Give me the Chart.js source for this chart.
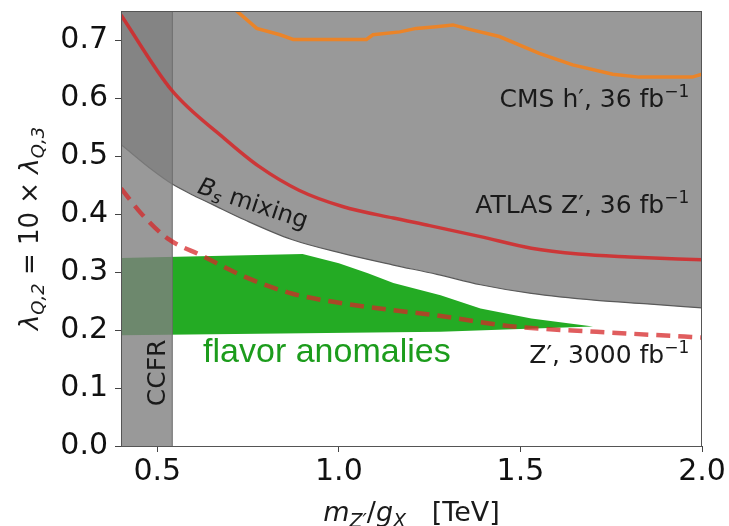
<!DOCTYPE html>
<html>
<head>
<meta charset="utf-8">
<script src="https://cdn.jsdelivr.net/npm/chart.js@4.4.0/dist/chart.umd.min.js"></script>
<style>
  html, body { margin: 0; padding: 0; background: #fff; }
  #wrap { width: 729px; height: 526px; }
</style>
</head>
<body>
<div id="wrap"><canvas id="chart" width="729" height="526"></canvas></div>
<script>
// axis ticks
const xTicks = [0.5, 1.0, 1.5, 2.0];
const yTicks = [0.0, 0.1, 0.2, 0.3, 0.4, 0.5, 0.6, 0.7];

// B_s mixing bound, excluded above
const bsX = [0.40, 0.49, 0.54, 0.60, 0.65, 0.74, 0.87, 1.01, 1.15, 1.27, 1.39, 1.53, 1.71, 1.85, 2.00];
const bsY = [0.520, 0.474, 0.452, 0.432, 0.417, 0.390, 0.356, 0.332, 0.312, 0.296, 0.278, 0.263, 0.251, 0.245, 0.238];

// CCFR bound, excluded below this mass
const ccfrX = [0.40, 0.541];
const ccfrTop = [0.75, 0.75];

// ATLAS Z', 36 fb^-1
const atlasX = [0.40, 0.54, 0.685, 0.78, 0.89, 1.01, 1.15, 1.25, 1.39, 1.53, 1.66, 1.80, 2.00];
const atlasY = [0.743, 0.613, 0.530, 0.482, 0.441, 0.413, 0.393, 0.380, 0.361, 0.341, 0.331, 0.326, 0.321];

// CMS h', 36 fb^-1
const cmsX = [0.715, 0.774, 0.838, 0.874, 1.076, 1.094, 1.168, 1.213, 1.268, 1.314, 1.369, 1.442, 1.552, 1.644, 1.754, 1.827, 1.973, 2.000];
const cmsY = [0.752, 0.720, 0.709, 0.701, 0.701, 0.709, 0.714, 0.720, 0.723, 0.726, 0.717, 0.706, 0.677, 0.657, 0.641, 0.636, 0.636, 0.641];

// Z' projection, 3000 fb^-1
const hlX = [0.40, 0.46, 0.53, 0.62, 0.74, 0.87, 1.01, 1.15, 1.26, 1.48, 1.71, 1.97, 2.00];
const hlY = [0.444, 0.398, 0.357, 0.329, 0.292, 0.263, 0.246, 0.234, 0.226, 0.206, 0.197, 0.188, 0.187];

// flavor anomalies band
const greenTopX = [0.40, 0.90, 1.00, 1.08, 1.15, 1.28, 1.39, 1.53, 1.70];
const greenTopY = [0.324, 0.331, 0.315, 0.298, 0.281, 0.260, 0.237, 0.220, 0.206];
const greenBotX = [0.40, 1.28, 1.70];
const greenBotY = [0.191, 0.197, 0.206];

const pts = (xs, ys) => xs.map((x, i) => ({ x: x, y: ys[i] }));

const FONT = '"DejaVu Sans"';
const norm = s => s + 'px ' + FONT;
const ital = s => 'italic ' + s + 'px ' + FONT;

// draw a run of text pieces with different fonts / offsets
function richText(ctx, parts, x, y, align) {
    let w = 0;
    parts.forEach(p => { ctx.font = p.f; p.w = ctx.measureText(p.t).width; w += p.w; });
    let cx = align === 'right' ? x - w : (align === 'center' ? x - w / 2 : x);
    ctx.textAlign = 'left';
    parts.forEach(p => {
        ctx.font = p.f;
        ctx.fillText(p.t, cx, y + (p.dy || 0));
        cx += p.w;
    });
}

const labelsPlugin = {
    id: 'labels',
    afterDatasetsDraw(chart) {
        const ctx = chart.ctx;
        const xs = chart.scales.x, ys = chart.scales.y;
        const X = v => xs.getPixelForValue(v), Y = v => ys.getPixelForValue(v);
        const a = chart.chartArea;

        ctx.save();
        ctx.textBaseline = 'alphabetic';
        ctx.fillStyle = '#1a1a1a';

        richText(ctx, [{ t: 'CMS h\u2032, 36 fb', f: norm(25) }, { t: '\u22121', f: norm(17), dy: -10 }], X(1.965), Y(0.584), 'right');
        richText(ctx, [{ t: 'ATLAS Z\u2032, 36 fb', f: norm(25) }, { t: '\u22121', f: norm(17), dy: -10 }], X(1.965), Y(0.402), 'right');
        richText(ctx, [{ t: 'Z\u2032, 3000 fb', f: norm(25) }, { t: '\u22121', f: norm(17), dy: -10 }], X(1.965), Y(0.143), 'right');

        // B_s mixing, along the boundary
        ctx.save();
        ctx.translate(X(0.764), Y(0.419));
        ctx.rotate(18.5 * Math.PI / 180);
        richText(ctx, [{ t: 'B', f: ital(24) }, { t: 's', f: ital(17), dy: 4 }, { t: ' mixing', f: norm(24) }], 0, 8, 'center');
        ctx.restore();

        // CCFR, vertical
        ctx.save();
        ctx.translate(X(0.497), Y(0.126));
        ctx.rotate(-Math.PI / 2);
        richText(ctx, [{ t: 'CCFR', f: norm(25) }], 0, 9, 'center');
        ctx.restore();

        ctx.fillStyle = '#1c9c1c';
        richText(ctx, [{ t: 'flavor anomalies', f: '34px "Liberation Sans"' }], X(0.967), Y(0.145), 'center');

        // frame
        ctx.strokeStyle = '#555';
        ctx.lineWidth = 1;
        ctx.strokeRect(a.left + 0.5, a.top + 0.5, a.right - a.left - 1, a.bottom - a.top);

        // axis titles
        ctx.fillStyle = '#1a1a1a';
        richText(ctx, [
            { t: 'm', f: ital(27) }, { t: 'Z\u2032', f: ital(19), dy: 6 },
            { t: '/', f: norm(27) }, { t: 'g', f: ital(27) }, { t: 'X', f: ital(19), dy: 6 },
            { t: '   [TeV]', f: norm(27) }
        ], (a.left + a.right) / 2, 521, 'center');

        ctx.save();
        ctx.translate(38, (a.top + a.bottom) / 2);
        ctx.rotate(-Math.PI / 2);
        richText(ctx, [
            { t: '\u03bb', f: ital(26) }, { t: 'Q,2', f: ital(18), dy: 6 },
            { t: ' = 10 \u00d7 ', f: norm(26) },
            { t: '\u03bb', f: ital(26) }, { t: 'Q,3', f: ital(18), dy: 6 }
        ], 0, 0, 'center');
        ctx.restore();

        ctx.restore();
    }
};

const GRAY = 'rgba(128,128,128,0.8)';
const RED = 'rgba(214,39,40,0.85)';

// fixed scale sizes so the plot area matches the reference
const fitX = s => { s.height = 80; s.paddingLeft = 0; s.paddingRight = 0; };
const fitY = s => { s.width = 121; s.paddingTop = 0; s.paddingBottom = 0; };

new Chart(document.getElementById('chart'), {
    type: 'line',
    data: {
        datasets: [
            {
                label: 'CMS',
                data: pts(cmsX, cmsY),
                borderColor: 'rgba(255,127,14,0.8)',
                borderWidth: 3.5,
                pointRadius: 0,
                tension: 0,
                fill: false,
                order: 1,
            },
            {
                label: 'ATLAS',
                data: pts(atlasX, atlasY),
                borderColor: RED,
                borderWidth: 3.5,
                pointRadius: 0,
                cubicInterpolationMode: 'monotone',
                fill: false,
                order: 1,
            },
            {
                label: 'HL',
                data: pts(hlX, hlY),
                borderColor: 'rgba(214,39,40,0.75)',
                borderWidth: 4.5,
                borderDash: [14, 8],
                pointRadius: 0,
                cubicInterpolationMode: 'monotone',
                fill: false,
                order: 2,
            },
            {
                label: 'CCFR',
                data: pts(ccfrX, ccfrTop),
                borderWidth: 0,
                borderColor: 'rgba(0,0,0,0)',
                backgroundColor: GRAY,
                pointRadius: 0,
                fill: 'start',
                order: 5,
            },
            {
                label: 'CCFR edge',
                data: pts([ccfrX[1], ccfrX[1]], [0, 0.75]),
                borderColor: '#6a6a6a',
                borderWidth: 1.2,
                pointRadius: 0,
                fill: false,
                order: 5,
            },
            {
                label: 'green top',
                data: pts(greenTopX, greenTopY),
                borderWidth: 0,
                borderColor: 'rgba(0,0,0,0)',
                backgroundColor: '#24ab24',
                pointRadius: 0,
                tension: 0,
                fill: 6,
                order: 6,
            },
            {
                label: 'green bottom',
                data: pts(greenBotX, greenBotY),
                borderWidth: 0,
                borderColor: 'rgba(0,0,0,0)',
                pointRadius: 0,
                tension: 0,
                fill: false,
                order: 6,
            },
            {
                label: 'Bs',
                data: pts(bsX, bsY),
                borderColor: '#5a5a5a',
                borderWidth: 1.2,
                backgroundColor: GRAY,
                pointRadius: 0,
                cubicInterpolationMode: 'monotone',
                fill: 'end',
                order: 7,
            },
        ]
    },
    options: {
        responsive: false,
        devicePixelRatio: 1,
        animation: false,
        layout: { padding: { left: 0, top: 11, right: 27, bottom: 0 } },
        plugins: {
            legend: { display: false },
            tooltip: { enabled: false },
        },
        scales: {
            x: {
                type: 'linear',
                min: 0.4,
                max: 2.0,
                afterBuildTicks: s => { s.ticks = xTicks.map(v => ({ value: v })); },
                afterFit: fitX,
                grid: { drawOnChartArea: false, drawTicks: true, tickLength: 6, color: '#444' },
                border: { display: false },
                ticks: {
                    padding: 2,
                    color: '#111',
                    font: { family: 'DejaVu Sans', size: 30 },
                    callback: v => v.toFixed(1),
                    maxRotation: 0,
                },
            },
            y: {
                min: 0,
                max: 0.75,
                afterBuildTicks: s => { s.ticks = yTicks.map(v => ({ value: v })); },
                afterFit: fitY,
                grid: { drawOnChartArea: false, drawTicks: true, tickLength: 6, color: '#444' },
                border: { display: false },
                ticks: {
                    padding: 7,
                    color: '#111',
                    font: { family: 'DejaVu Sans', size: 30 },
                    callback: v => v.toFixed(1),
                },
            },
        },
    },
    plugins: [labelsPlugin],
});
</script>
</body>
</html>
